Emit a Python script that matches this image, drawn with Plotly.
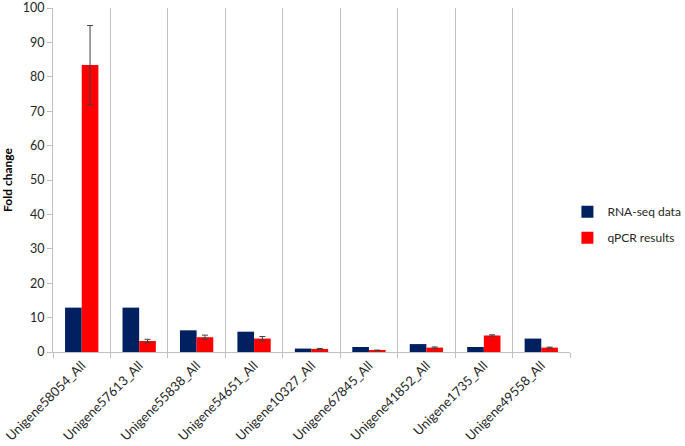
import plotly.graph_objects as go

genes = ["Unigene58054_All", "Unigene57613_All", "Unigene55838_All", "Unigene54651_All",
         "Unigene10327_All", "Unigene67845_All", "Unigene41852_All", "Unigene1735_All",
         "Unigene49558_All"]
rnaseq = [12.9, 12.9, 6.3, 5.9, 1.0, 1.45, 2.3, 1.45, 3.9]
qpcr = [83.4, 3.2, 4.3, 3.9, 0.9, 0.5, 1.27, 4.8, 1.27]
qpcr_err = [11.5, 0.5, 0.6, 0.6, 0.15, 0.05, 0.2, 0.2, 0.15]

fig = go.Figure()
fig.add_trace(go.Bar(x=genes, y=rnaseq, name="RNA-seq data", marker_color="#002060",
                     marker_line_width=0, legendgroup="a"))
fig.add_trace(go.Bar(x=genes, y=qpcr, name="qPCR results", marker_color="#FF0000",
                     marker_line_width=0, legendgroup="b",
                     error_y=dict(type="data", array=qpcr_err, color="#404040",
                                  thickness=1, width=3)))

fig.update_layout(
    width=685, height=446,
    margin=dict(l=53, r=115, t=8, b=94, autoexpand=False),
    paper_bgcolor="white", plot_bgcolor="white",
    barmode="group", bargap=0.42, bargroupgap=0,
    font=dict(family="Lato, Open Sans, sans-serif", size=12, color="#262626"),
    legend=dict(x=0.995, y=0.37, xanchor="left", yanchor="middle",
                font=dict(size=12, color="#262626"), itemwidth=30,
                tracegroupgap=7, bgcolor="rgba(0,0,0,0)"),
    showlegend=True,
)
fig.update_xaxes(
    type="category", tickson="boundaries", showgrid=True, gridcolor="#BFBFBF", gridwidth=1,
    showline=True, linecolor="#BFBFBF", linewidth=1, automargin=False,
    ticks="outside", ticklen=5, tickcolor="#BFBFBF",
    tickangle=-45, tickfont=dict(size=13, color="#262626"),
)
fig.update_yaxes(
    range=[0, 100], dtick=10, showgrid=False, zeroline=False, automargin=False,
    showline=True, linecolor="#BFBFBF", linewidth=1, ticklabeloverflow="allow",
    ticks="outside", ticklen=5, tickcolor="#BFBFBF",
    tickfont=dict(size=12.5, color="#262626"),
    title=dict(text="<b>Fold change</b>", font=dict(size=12, color="#000000"), standoff=11),
)

fig.write_html("out.html", config={"displayModeBar": False},
               post_script="document.body.style.margin='0';")
